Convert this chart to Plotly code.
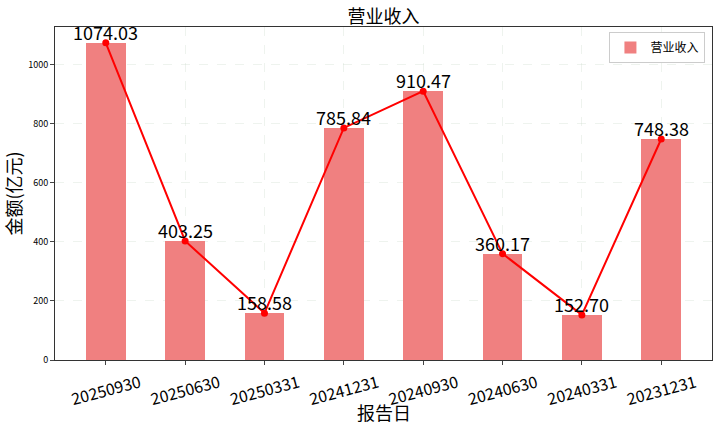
import plotly.graph_objects as go

dates = ['20250930', '20250630', '20250331', '20241231',
         '20240930', '20240630', '20240331', '20231231']
revenue = [1074.03, 403.25, 158.58, 785.84, 910.47, 360.17, 152.70, 748.38]
labels = [f'{v:.2f}' for v in revenue]

FONT = 'Noto Sans CJK SC, Noto Sans, sans-serif'
xs = list(range(len(dates)))

fig = go.Figure()
fig.add_trace(go.Bar(x=xs, y=revenue, width=0.5,
                     marker=dict(color='rgba(240,128,128,1)', line=dict(width=0)),
                     name='营业收入'))
fig.add_trace(go.Scatter(x=xs, y=revenue, mode='lines+markers',
                         line=dict(color='red', width=2),
                         marker=dict(color='red', size=7),
                         showlegend=False, cliponaxis=False))

# value labels sit right on top of the points, like matplotlib's ax.text
for x, v, t in zip(xs, revenue, labels):
    fig.add_annotation(x=x, y=v, text=t, showarrow=False, yanchor='bottom',
                       yshift=-4, font=dict(size=18, color='black'))

fig.update_layout(
    width=719, height=428,
    margin=dict(l=55, r=7, t=27, b=68, autoexpand=False),
    paper_bgcolor='white', plot_bgcolor='white',
    font=dict(family=FONT, color='black'),
    title=dict(text='营业收入', x=0.5, xanchor='center', xref='paper',
               y=0.962, yanchor='middle', font=dict(size=18)),
    legend=dict(x=0.99, y=0.985, xanchor='right', yanchor='top',
                bgcolor='white', bordercolor='#cccccc', borderwidth=1,
                font=dict(size=12)),
    bargap=0,
)
fig.add_annotation(text='报告日', xref='paper', yref='paper', x=0.5, y=0,
                   yshift=-52, yanchor='middle', showarrow=False,
                   font=dict(size=18))
fig.update_xaxes(range=[-0.64, 7.64], tickvals=xs, ticktext=dates,
                 tickangle=-15, tickfont=dict(size=16), ticks='outside', ticklen=4,
                 ticklabelshift=34, ticklabelstandoff=3, automargin=False,
                 showline=True, linecolor='#333', mirror=True,
                 showgrid=True, gridcolor='rgba(200,215,200,0.3)', griddash='dash')
fig.update_yaxes(range=[0, 1127.7], tickvals=[0, 200, 400, 600, 800, 1000],
                 tickfont=dict(size=9), ticks='outside', ticklen=4, automargin=False,
                 showline=True, linecolor='#333', mirror=True, zeroline=False,
                 showgrid=True, gridcolor='rgba(200,215,200,0.3)', griddash='dash',
                 title=dict(text='金额(亿元)', font=dict(size=18), standoff=4))

fig.write_html('out.html', config={'displayModeBar': False},
               post_script="document.body.style.margin='0';")
